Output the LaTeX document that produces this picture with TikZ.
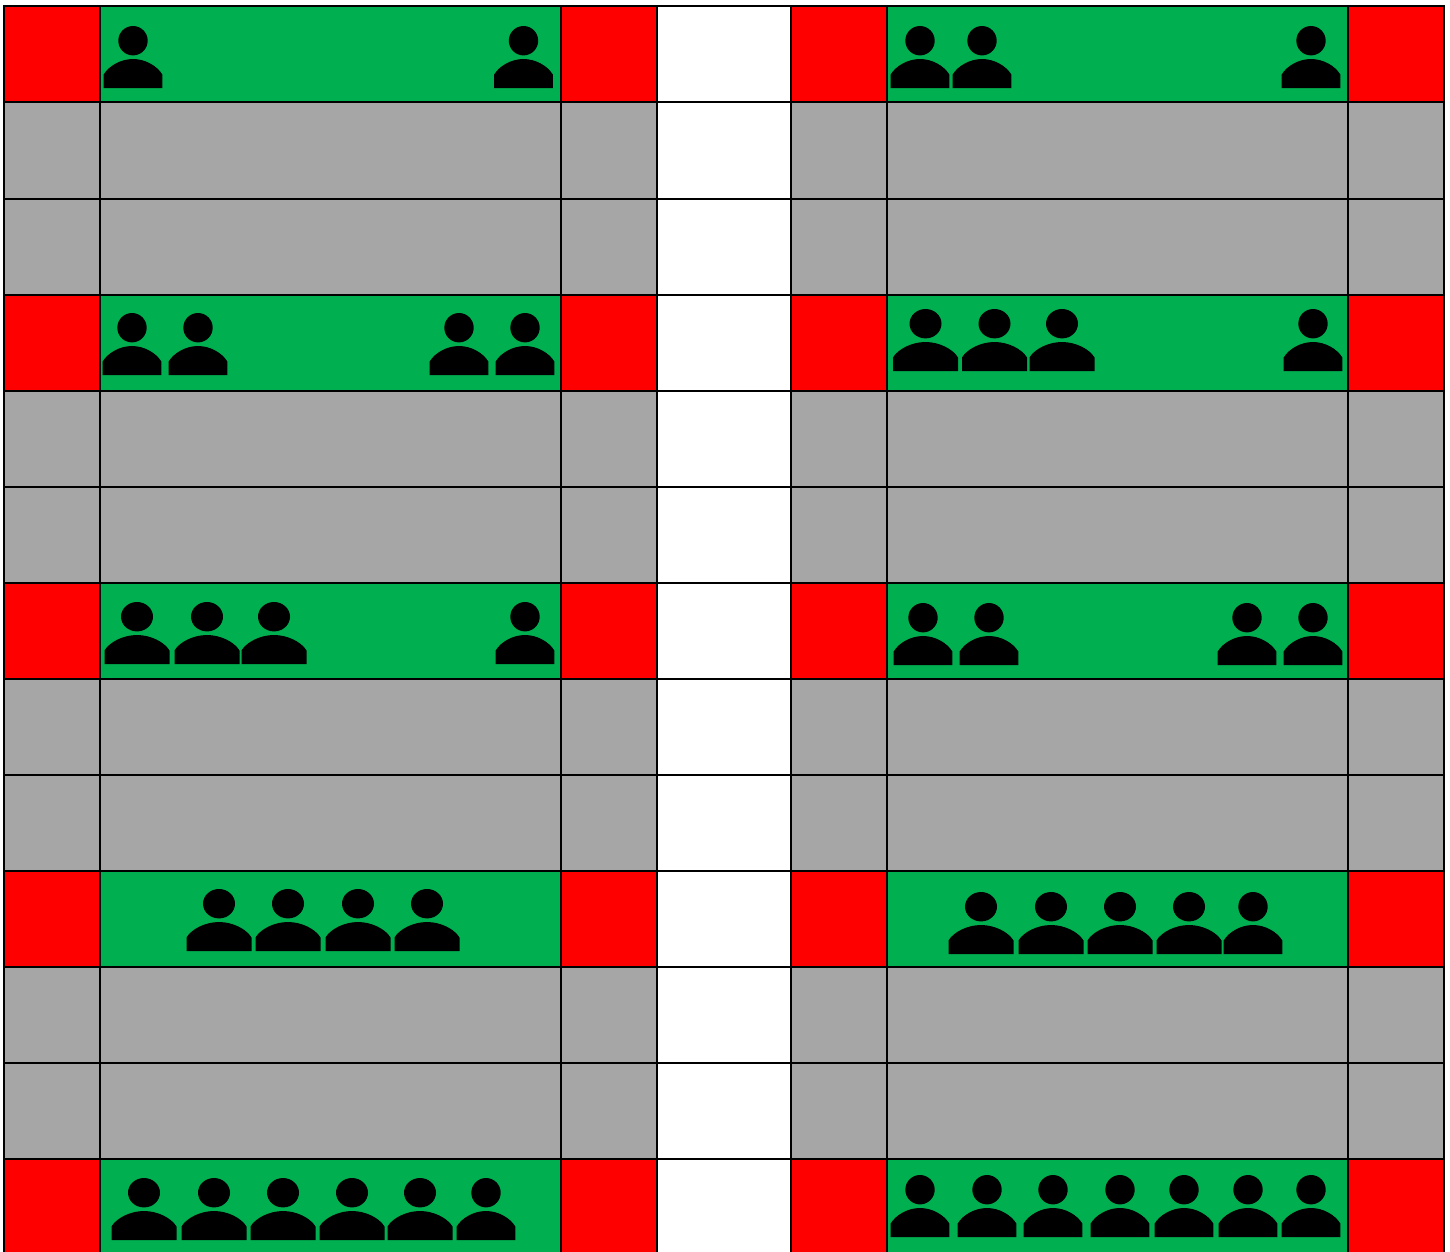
\documentclass[tikz,border=0pt]{standalone}
\definecolor{cellred}{RGB}{255,0,0}
\definecolor{cellgreen}{RGB}{0,176,80}
\definecolor{cellgray}{RGB}{166,166,166}
\tikzset{
  x=1pt,y=-1pt,
  gridcell/.style={draw=black,line width=2pt},
  personfill/.style={fill=black,draw=none}
}
% #1 centre x, #2 bottom y, #3 half width, #4 head x radius
\newcommand{\person}[4]{%
  \fill[personfill] (#1,#2-47.3) ellipse[x radius=#4,y radius=14.7];
  \fill[personfill] (#1-#3,#2) -- (#1-#3,#2-13.5)
    .. controls (#1-#3+5,#2-22) and (#1-#3*0.42,#2-29) .. (#1,#2-29)
    .. controls (#1+#3*0.42,#2-29) and (#1+#3-5,#2-22) .. (#1+#3,#2-13.5)
    -- (#1+#3,#2) -- cycle;
}
\newcommand{\psmall}[2]{\person{#1}{#2}{29.3}{14.7}}
\newcommand{\plarge}[2]{\person{#1}{#2}{32.5}{16}}
\begin{document}
\begin{tikzpicture}
\useasboundingbox (0,0) rectangle (1450,1251);
\begin{scope}
\clip (0,0) rectangle (1450,1251);
\foreach \rw/\rt/\rb in {0/6/102,1/102/199,2/199/295,3/295/391,4/391/487,5/487/583,6/583/679,7/679/775,8/775/871,9/871/967,10/967/1063,11/1063/1159,12/1159/1255}{
  \pgfmathtruncatemacro{\fa}{mod(\rw,3)}
  \ifnum\fa=0
    \def\sidecol{cellred}\def\midcol{cellgreen}
  \else
    \def\sidecol{cellgray}\def\midcol{cellgray}
  \fi
  \filldraw[gridcell,fill=\sidecol] (4,\rt) rectangle (100,\rb);
  \filldraw[gridcell,fill=\midcol] (100,\rt) rectangle (561,\rb);
  \filldraw[gridcell,fill=\sidecol] (561,\rt) rectangle (657,\rb);
  \filldraw[gridcell,fill=white] (657,\rt) rectangle (791,\rb);
  \filldraw[gridcell,fill=\sidecol] (791,\rt) rectangle (887,\rb);
  \filldraw[gridcell,fill=\midcol] (887,\rt) rectangle (1348,\rb);
  \filldraw[gridcell,fill=\sidecol] (1348,\rt) rectangle (1444,\rb);
}
\foreach \c in {133,523.5,920,982,1311}{\psmall{\c}{88}}
\foreach \c in {132,198,459,525}{\psmall{\c}{375}}
\foreach \c in {925.5,994.5,1062}{\plarge{\c}{371}}
\psmall{1313}{371}
\foreach \c in {137,207,274}{\plarge{\c}{664}}
\psmall{525}{664}
\foreach \c in {923,989,1247,1313}{\psmall{\c}{665}}
\foreach \c in {219,288,358,427}{\plarge{\c}{951}}
\foreach \c in {981,1051,1120,1189}{\plarge{\c}{954}}
\psmall{1253}{954}
\foreach \c in {144,214,283,352,420}{\plarge{\c}{1240}}
\psmall{486}{1240}
\foreach \c in {920,987,1053,1120,1184,1248,1311}{\psmall{\c}{1237}}
\end{scope}
\end{tikzpicture}
\end{document}
